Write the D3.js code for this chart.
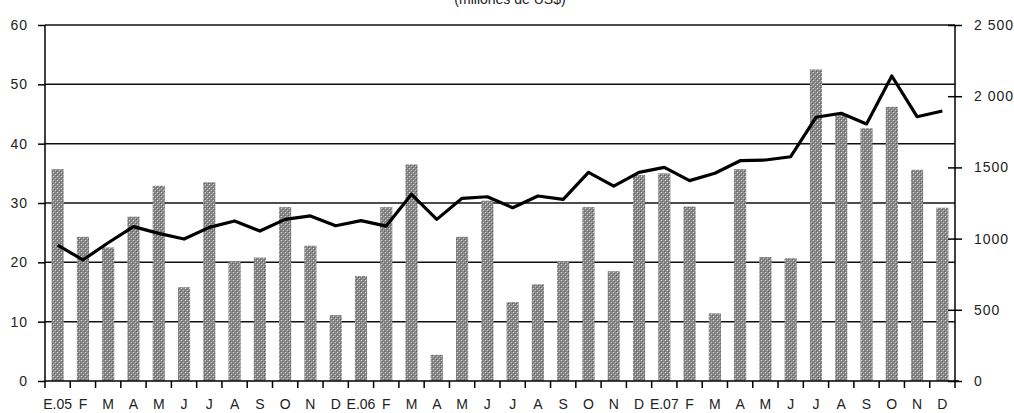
<!DOCTYPE html>
<html>
<head>
<meta charset="utf-8">
<script src="https://cdn.jsdelivr.net/npm/d3@7"></script>
<style>
  body { margin: 0; background: #fff; }
  svg { display: block; font-family: "Liberation Sans", Arial, sans-serif; }
</style>
</head>
<body>
<div id="chart"></div>
<script>
// months, Jan 2005 - Dec 2007
var months = ["E.05","F","M","A","M","J","J","A","S","O","N","D",
              "E.06","F","M","A","M","J","J","A","S","O","N","D",
              "E.07","F","M","A","M","J","J","A","S","O","N","D"];

// bars, left axis
var barValues = [35.7, 24.3, 22.5, 27.7, 32.9, 15.8, 33.5, 20.2, 20.8, 29.3, 22.8, 11.1,
                 17.7, 29.3, 36.5, 4.4, 24.3, 30.4, 13.3, 16.3, 20.2, 29.3, 18.5, 34.7,
                 35.0, 29.4, 11.4, 35.7, 20.9, 20.7, 52.5, 44.8, 42.6, 46.2, 35.6, 29.2];

// line, right axis
var lineValues = [955, 850, 971, 1084, 1037, 997, 1079, 1124, 1053, 1135, 1159, 1090,
                  1126, 1088, 1311, 1135, 1283, 1294, 1217, 1299, 1276, 1465, 1369, 1465,
                  1500, 1407, 1459, 1547, 1552, 1575, 1852, 1880, 1805, 2142, 1856, 1896];

var leftTicks = [0, 10, 20, 30, 40, 50, 60];
var rightTicks = [0, 500, 1000, 1500, 2000, 2500];
var rightLabels = ["0", "500", "1000", "1500", "2 000", "2 500"];
var title = "(millones de US$)";

var width = 1014, height = 413;
var plotL = 45, plotR = 955, plotT = 25, plotB = 381;

var svg = d3.select("#chart").append("svg")
  .attr("width", width)
  .attr("height", height);

// halftone-ish fill for the bars
var pat = svg.append("defs").append("pattern")
  .attr("id", "dots")
  .attr("width", 4).attr("height", 4)
  .attr("patternUnits", "userSpaceOnUse");
pat.append("rect").attr("width", 4).attr("height", 4).attr("fill", "#8a8a8a");
pat.append("rect").attr("x", 1).attr("y", 0).attr("width", 1).attr("height", 1).attr("fill", "#d8d8d8");
pat.append("rect").attr("x", 3).attr("y", 2).attr("width", 1).attr("height", 1).attr("fill", "#c8c8c8");
pat.append("rect").attr("x", 0).attr("y", 3).attr("width", 1).attr("height", 1).attr("fill", "#5e5e5e");
pat.append("rect").attr("x", 2).attr("y", 1).attr("width", 1).attr("height", 1).attr("fill", "#686868");

var x = d3.scaleBand()
  .domain(d3.range(months.length))
  .range([plotL, plotR])
  .paddingInner(0.52)
  .paddingOuter(0.26);

var xc = d3.scaleBand()
  .domain(d3.range(months.length))
  .range([plotL, plotR]);

var yL = d3.scaleLinear().domain([0, 60]).range([plotB, plotT]);
var yR = d3.scaleLinear().domain([0, 2500]).range([plotB, plotT]);

// title (cut at the top edge, as in the scan)
svg.append("text")
  .attr("x", 510).attr("y", 4)
  .attr("text-anchor", "middle")
  .attr("font-size", 14)
  .attr("fill", "#222")
  .text(title);

// gridlines
svg.append("g").selectAll("line")
  .data(leftTicks.slice(1))
  .join("line")
  .attr("x1", plotL).attr("x2", plotR)
  .attr("y1", function(d) { return yL(d); })
  .attr("y2", function(d) { return yL(d); })
  .attr("stroke", "#111")
  .attr("stroke-width", 1.5);

// bars
svg.append("g").selectAll("rect")
  .data(barValues)
  .join("rect")
  .attr("x", function(d, i) { return x(i); })
  .attr("width", x.bandwidth())
  .attr("y", function(d) { return yL(d); })
  .attr("height", function(d) { return yL(0) - yL(d); })
  .attr("fill", "url(#dots)");

// line
var line = d3.line()
  .x(function(d, i) { return xc(i) + xc.bandwidth() / 2; })
  .y(function(d) { return yR(d); });

svg.append("path")
  .datum(lineValues)
  .attr("d", line)
  .attr("fill", "none")
  .attr("stroke", "#000")
  .attr("stroke-width", 3.2)
  .attr("stroke-linejoin", "round");

// left axis
var gl = svg.append("g")
  .attr("transform", "translate(" + plotL + ",0)")
  .call(d3.axisLeft(yL).tickValues(leftTicks).tickSize(7).tickPadding(10));

// right axis
var gr = svg.append("g")
  .attr("transform", "translate(" + plotR + ",0)")
  .call(d3.axisRight(yR).tickValues(rightTicks).tickSize(7).tickPadding(12)
    .tickFormat(function(d, i) { return rightLabels[i]; }));
gr.selectAll(".tick line").attr("x1", -7);

// bottom axis, ticks on month boundaries
var gb = svg.append("g")
  .attr("transform", "translate(0," + plotB + ")");
gb.append("line")
  .attr("x1", plotL).attr("x2", plotR + 4)
  .attr("stroke", "#000").attr("stroke-width", 1.5);
gb.selectAll("line.tk")
  .data(d3.range(months.length + 1))
  .join("line")
  .attr("class", "tk")
  .attr("x1", function(d) { return plotL + d * xc.step(); })
  .attr("x2", function(d) { return plotL + d * xc.step(); })
  .attr("y1", 0).attr("y2", 7)
  .attr("stroke", "#000").attr("stroke-width", 1.5);
gb.selectAll("text")
  .data(months)
  .join("text")
  .attr("x", function(d, i) { return xc(i) + xc.bandwidth() / 2; })
  .attr("y", 28)
  .attr("text-anchor", "middle")
  .attr("font-size", 14)
  .attr("fill", "#222")
  .text(function(d) { return d; });

[gl, gr].forEach(function(g) {
  g.select(".domain").attr("stroke", "#000").attr("stroke-width", 1.5);
  g.selectAll(".tick line").attr("stroke", "#000").attr("stroke-width", 1.5);
  g.selectAll(".tick text")
    .attr("font-size", 14)
    .attr("letter-spacing", 1)
    .attr("fill", "#222")
    .attr("font-family", "\"Liberation Sans\", Arial, sans-serif");
});
gl.select(".domain").attr("d", "M0," + plotT + "V" + plotB);
gr.select(".domain").attr("d", "M0," + plotT + "V" + plotB);
</script>
</body>
</html>
